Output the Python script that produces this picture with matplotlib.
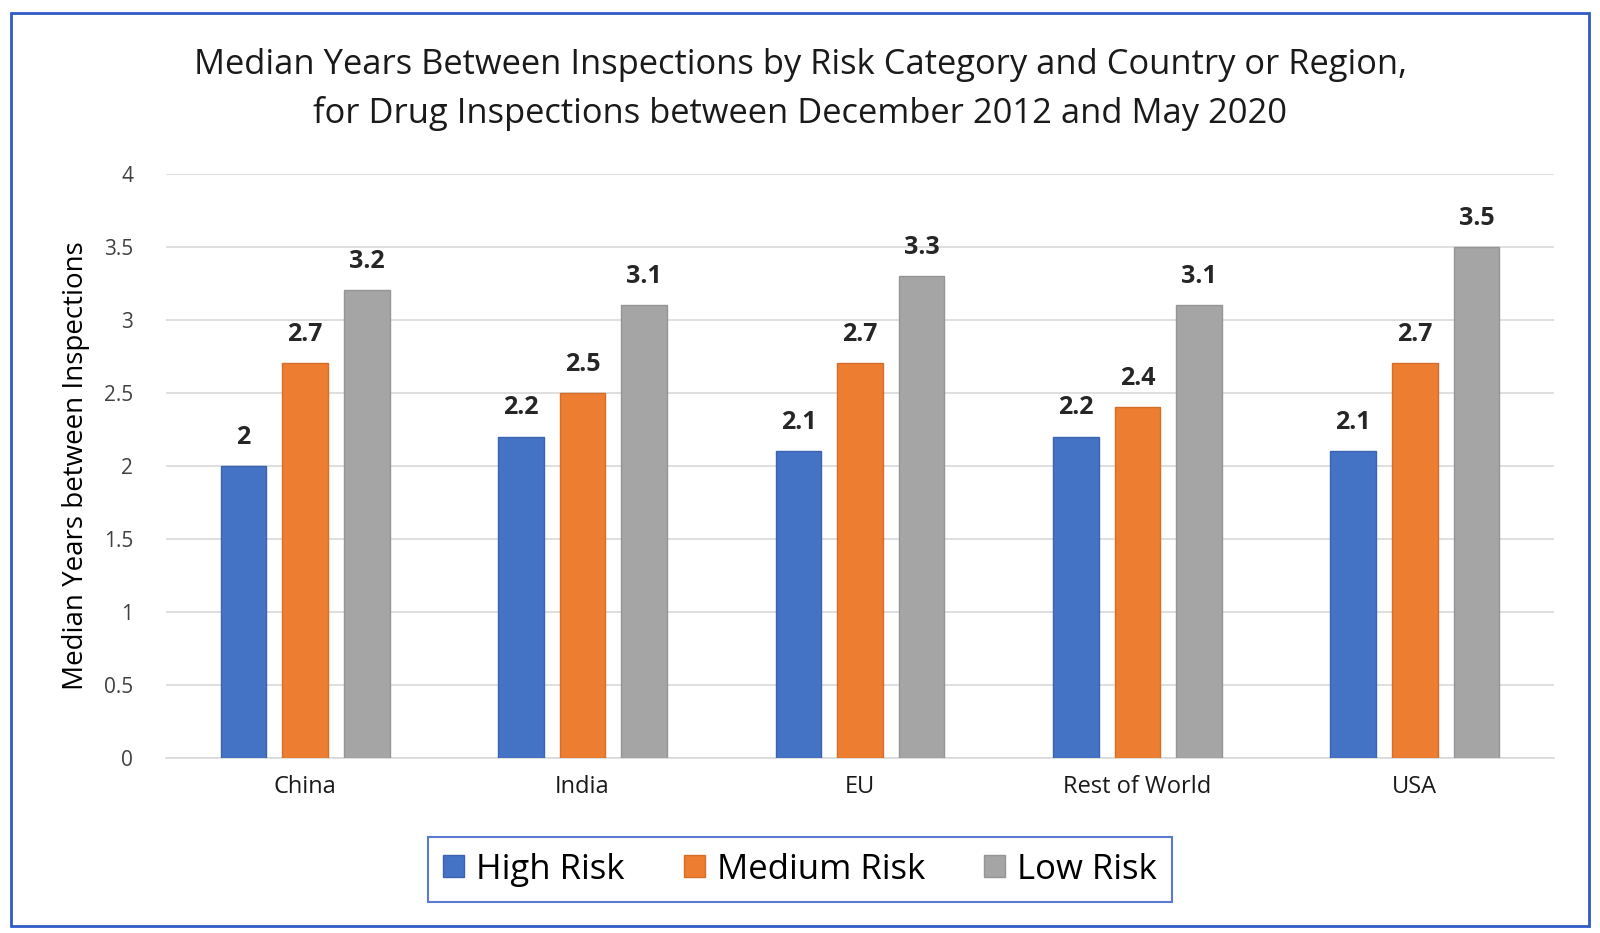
import matplotlib.pyplot as plt
import numpy as np

categories = ["China", "India", "EU", "Rest of World", "USA"]
series_names = ["High Risk", "Medium Risk", "Low Risk"]
high_risk = [2, 2.2, 2.1, 2.2, 2.1]
medium_risk = [2.7, 2.5, 2.7, 2.4, 2.7]
low_risk = [3.2, 3.1, 3.3, 3.1, 3.5]
yticks = [0, 0.5, 1, 1.5, 2, 2.5, 3, 3.5, 4]
ytick_labels = ["0", "0.5", "1", "1.5", "2", "2.5", "3", "3.5", "4"]

colors = ["#4472C4", "#ED7D31", "#A5A5A5"]
edges = ["#3A64B0", "#D46E2A", "#959595"]

plt.rcParams['font.family'] = ['Open Sans', 'DejaVu Sans']

fig = plt.figure(figsize=(16, 9.33), dpi=100)
ax = fig.add_axes([0.104, 0.1876, 0.867, 0.6264])

x = np.arange(len(categories))
width = 0.165
pitch = 0.222
for i, vals in enumerate([high_risk, medium_risk, low_risk]):
    pos = x + (i - 1) * pitch
    ax.bar(pos, vals, width=width, color=colors[i], edgecolor=edges[i],
           linewidth=1, label=series_names[i], zorder=3)
    for p, v in zip(pos, vals):
        ax.text(p, v + 0.11, f"{v:g}", ha="center", va="bottom",
                fontsize=18, fontweight="bold", color="#262626")

ax.set_xlim(-0.5, len(categories) - 0.5)
ax.set_ylim(0, 4)
ax.set_yticks(yticks)
ax.set_yticklabels(ytick_labels, fontsize=15, color="#404040")
ax.set_xticks(x)
ax.set_xticklabels(categories, fontsize=17, color="#1a1a1a")
ax.yaxis.grid(True, color="#D9D9D9", linewidth=1.2, zorder=0)
ax.tick_params(axis="x", length=0, pad=12)
ax.tick_params(axis="y", length=0, pad=24)
for s in ["top", "right", "left"]:
    ax.spines[s].set_visible(False)
ax.spines["bottom"].set_color("#D9D9D9")
ax.spines["bottom"].set_linewidth(1.2)

ax.set_ylabel("Median Years between Inspections", fontsize=20, color="#000000", labelpad=10)

fig.text(0.5, 0.930, "Median Years Between Inspections by Risk Category and Country or Region,",
         ha="center", va="center", fontsize=24.8, color="#1a1a1a")
fig.text(0.5, 0.878, "for Drug Inspections between December 2012 and May 2020",
         ha="center", va="center", fontsize=24.8, color="#1a1a1a")

leg = fig.legend(loc="center", bbox_to_anchor=(0.5, 0.068), ncol=3, fontsize=25,
                 frameon=True, fancybox=False, handlelength=0.6, handleheight=0.6,
                 handletextpad=0.35, columnspacing=1.7, borderpad=0.45, borderaxespad=0)
leg.get_frame().set_edgecolor("#2F5BC7")
leg.get_frame().set_linewidth(1.5)

border = plt.Rectangle((0.007, 0.007), 0.986, 0.979, transform=fig.transFigure,
                       fill=False, edgecolor="#2F5BC7", linewidth=2)
fig.patches.append(border)

fig.savefig("out.png", dpi=100)
